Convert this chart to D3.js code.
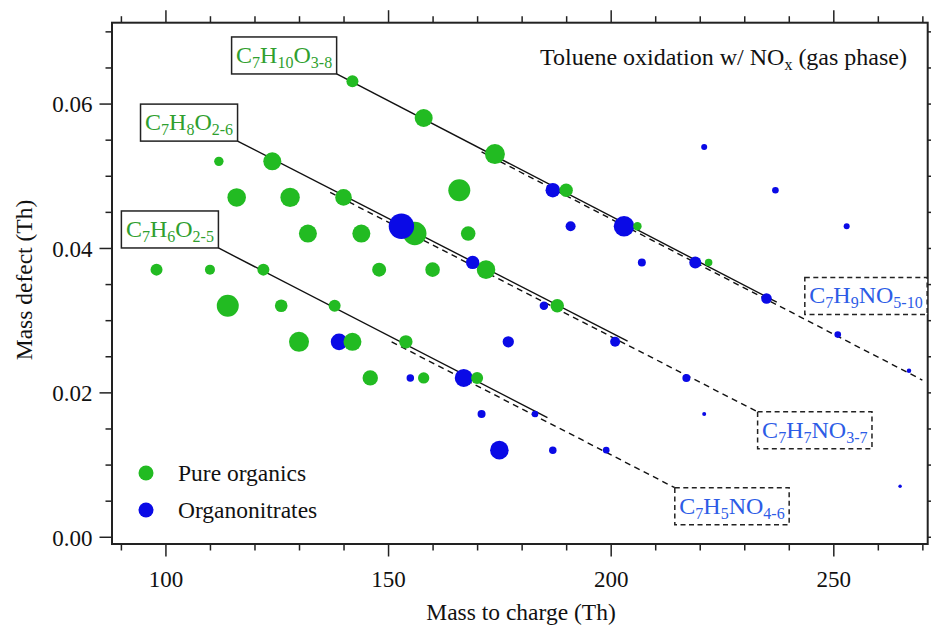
<!DOCTYPE html>
<html>
<head>
<meta charset="utf-8">
<script src="https://cdn.jsdelivr.net/npm/d3@7/dist/d3.min.js"></script>
<style>
body { margin: 0; background: #fff; }
text { font-family: "Liberation Serif", "Times New Roman", serif; }
</style>
</head>
<body>
<div id="chart"></div>
<script>
// pure organics (green)
const organicsMz = [142, 158, 174, 190, 206, 222, 112, 124, 116, 128, 140, 166, 132, 144, 156, 168,
	98, 110, 122, 148, 160, 172, 114, 126, 138, 188, 130, 142, 154, 146, 158, 170];
const organicsDefect = [0.0631, 0.058, 0.053, 0.048, 0.043, 0.038, 0.052, 0.052, 0.047, 0.047, 0.047, 0.048,
	0.042, 0.042, 0.042, 0.042, 0.037, 0.037, 0.037, 0.037, 0.037, 0.037, 0.032, 0.032, 0.032, 0.032,
	0.027, 0.027, 0.027, 0.022, 0.022, 0.022];
const organicsSignal = [36, 81, 100, 45, 18, 14, 22, 81, 86, 94, 69, 121, 81, 81, 137, 53,
	36, 25, 36, 49, 53, 86, 121, 40, 36, 45, 100, 81, 45, 59, 32, 36];

// organonitrates (blue)
const nitratesMz = [153, 139, 155, 167, 169, 177, 171, 183, 175, 187, 199, 185, 187, 191, 203, 207,
	219, 235, 221, 237, 253, 201, 217, 221, 251, 267, 265];
const nitratesDefect = [0.043, 0.027, 0.022, 0.022, 0.038, 0.027, 0.017, 0.017, 0.012, 0.012, 0.012, 0.032,
	0.048, 0.043, 0.043, 0.038, 0.038, 0.033, 0.054, 0.048, 0.043, 0.027, 0.022, 0.017, 0.028, 0.023, 0.007];
const nitratesSignal = [161, 69, 14, 81, 45, 32, 16, 11, 86, 14, 11, 18, 53, 25, 106, 16,
	36, 28, 9, 11, 9, 25, 16, 4, 11, 5, 3];

const seriesNames = ["Pure organics", "Organonitrates"];

const xMajor = [100, 150, 200, 250];
const xMinor = [90, 110, 120, 130, 140, 160, 170, 180, 190, 210, 220, 230, 240, 260, 270];
const yMajor = [0, 0.02, 0.04, 0.06];
const yMinor = [0.005, 0.01, 0.015, 0.025, 0.03, 0.035, 0.045, 0.05, 0.055, 0.065, 0.07];

// homologous series guide lines: [m/z start, defect start, m/z end, defect end]
const lineNames = ["C7H10O3-8", "C7H9NO5-10", "C7H8O2-6", "C7H7NO3-7", "C7H6O2-5", "C7H5NO4-6"];
const lineEnds = [
	[138.45, 0.0641, 237.3, 0.0325],
	[171, 0.0533, 270, 0.0217],
	[116.2, 0.0548, 203.8, 0.0271],
	[137, 0.0477, 233, 0.0173],
	[111.9, 0.0400, 185.8, 0.0165],
	[150.8, 0.0270, 214.4, 0.0068]
];
const lineIsNitrate = [false, true, false, true, false, true];

// formula labels, {} = subscript; anchor in data units + box corner at anchor
const labelText = ["C{7}H{10}O{3-8}", "C{7}H{8}O{2-6}", "C{7}H{6}O{2-5}",
	"C{7}H{9}NO{5-10}", "C{7}H{7}NO{3-7}", "C{7}H{5}NO{4-6}"];
const labelAnchor = [[138.45, 0.0641], [116.2, 0.0548], [111.9, 0.0400],
	[243.6, 0.0308], [233, 0.0173], [214.4, 0.0068]];
const labelCorner = ["br", "br", "br", "bl", "tl", "tl"];
const labelIsNitrate = [false, false, false, true, true, true];

const W = 931, H = 630;
const green = "#22bb22", blue = "#0a0ae6";
const greenText = "#2f9f2f", blueText = "#2d5ce6";

const svg = d3.select("#chart").append("svg")
	.attr("width", W)
	.attr("height", H);

const x = d3.scaleLinear().domain([88, 271.2]).range([112, 927.7]);
const y = d3.scaleLinear().domain([-0.001, 0.0712]).range([544, 22.7]);
const r = d3.scaleSqrt().domain([0, 100]).range([0, 10]);

// axes, outward ticks on all four sides
const axes = [
	[d3.axisBottom, `translate(0,${y.range()[0]})`, x],
	[d3.axisTop, `translate(0,${y.range()[1]})`, x],
	[d3.axisLeft, `translate(${x.range()[0]},0)`, y],
	[d3.axisRight, `translate(${x.range()[1]},0)`, y]
];
axes.forEach(([fn, tr, sc], i) => {
	const major = sc === x ? xMajor : yMajor;
	const minor = sc === x ? xMinor : yMinor;
	const labelled = i === 0 || i === 2;
	const gMin = svg.append("g").attr("transform", tr)
		.call(fn(sc).tickValues(minor).tickSize(6.5).tickFormat(""));
	const gMaj = svg.append("g").attr("transform", tr)
		.call(fn(sc).tickValues(major).tickSize(12.5).tickPadding(6)
			.tickFormat(labelled ? (sc === x ? d3.format("d") : d3.format(".2f")) : ""));
	[gMin, gMaj].forEach(g => {
		g.select(".domain").remove();
		g.selectAll(".tick line").attr("stroke", "#222").attr("stroke-width", 1.5);
		g.selectAll(".tick text")
			.attr("font-family", "Liberation Serif")
			.attr("font-size", 23)
			.attr("fill", "#111");
	});
	if (i === 0) gMaj.selectAll(".tick text").attr("dy", "1.08em");
	if (i === 2) gMaj.selectAll(".tick text").attr("dx", "-1").attr("dy", "0.36em");
});

svg.append("rect")
	.attr("x", x.range()[0])
	.attr("y", y.range()[1])
	.attr("width", x.range()[1] - x.range()[0])
	.attr("height", y.range()[0] - y.range()[1])
	.attr("fill", "none")
	.attr("stroke", "#222")
	.attr("stroke-width", 2);

// guide lines
svg.append("g")
	.selectAll("line")
	.data(lineEnds)
	.enter()
	.append("line")
	.attr("x1", d => x(d[0]))
	.attr("y1", d => y(d[1]))
	.attr("x2", d => x(d[2]))
	.attr("y2", d => y(d[3]))
	.attr("stroke", "#111")
	.attr("stroke-width", 1.4)
	.attr("stroke-dasharray", (d, i) => lineIsNitrate[i] ? "6,4.5" : null);

// points: nitrates then organics, drawn by increasing mass defect
const points = nitratesMz.map((m, i) => ({ mz: m, md: nitratesDefect[i], s: nitratesSignal[i], kind: 1 }))
	.concat(organicsMz.map((m, i) => ({ mz: m, md: organicsDefect[i], s: organicsSignal[i], kind: 0 })));
const ordered = d3.sort(points, (a, b) => a.md - b.md);

svg.append("g")
	.selectAll("circle")
	.data(ordered)
	.enter()
	.append("circle")
	.attr("cx", d => x(d.mz))
	.attr("cy", d => y(d.md))
	.attr("r", d => r(d.s))
	.attr("fill", d => d.kind ? blue : green);

// formula labels in boxes
const addFormula = (g, str, size, subSize, color) => {
	const t = g.append("text").attr("font-size", size).attr("fill", color);
	let down = false;
	str.split(/(\{[^}]*\})/).filter(s => s).forEach(p => {
		if (p[0] === "{") {
			t.append("tspan").attr("font-size", subSize).attr("dy", down ? 0 : 5).text(p.slice(1, -1));
			down = true;
		} else {
			t.append("tspan").attr("dy", down ? -5 : 0).text(p);
			down = false;
		}
	});
	return t;
};

const labelGroups = labelText.map((str, i) => {
	const g = svg.append("g");
	const box = g.append("rect")
		.attr("fill", "#fff")
		.attr("stroke", "#222")
		.attr("stroke-width", 1.5)
		.attr("stroke-dasharray", labelIsNitrate[i] ? "5,3.5" : null);
	const t = addFormula(g, str, 24, 16, labelIsNitrate[i] ? blueText : greenText);
	return { box, t, i };
});

const placeLabels = () => {
	labelGroups.forEach(({ box, t, i }) => {
		t.attr("x", 0).attr("y", 0);
		const bw = t.node().getBBox().width + 9;
		const bh = 37;
		const ax = x(labelAnchor[i][0]), ay = y(labelAnchor[i][1]);
		const c = labelCorner[i];
		const bx = c[1] === "r" ? ax - bw : ax;
		const by = c[0] === "b" ? ay - bh : ay;
		box.attr("x", bx).attr("y", by).attr("width", bw).attr("height", bh);
		t.attr("x", bx + 4.5).attr("y", by + 26);
	});
};
placeLabels();
if (document.fonts) document.fonts.ready.then(placeLabels);

// title
const title = svg.append("text")
	.attr("x", 907)
	.attr("y", 65)
	.attr("text-anchor", "end")
	.attr("font-size", 24)
	.attr("fill", "#111");
title.append("tspan").text("Toluene oxidation w/ NO");
title.append("tspan").attr("font-size", 16).attr("dy", 5).text("x");
title.append("tspan").attr("dy", -5).text(" (gas phase)");

// legend
const legend = svg.append("g");
seriesNames.forEach((name, i) => {
	legend.append("circle")
		.attr("cx", 146)
		.attr("cy", 473 + i * 37)
		.attr("r", 7.5)
		.attr("fill", i ? blue : green);
	legend.append("text")
		.attr("x", 178)
		.attr("y", 481 + i * 37)
		.attr("font-size", 23.5)
		.attr("fill", "#111")
		.text(name);
});

// axis titles
svg.append("text")
	.attr("x", 521)
	.attr("y", 620)
	.attr("text-anchor", "middle")
	.attr("font-size", 23.5)
	.attr("fill", "#111")
	.text("Mass to charge (Th)");

svg.append("text")
	.attr("transform", "translate(32,280) rotate(-90)")
	.attr("text-anchor", "middle")
	.attr("font-size", 23.5)
	.attr("fill", "#111")
	.text("Mass defect (Th)");
</script>
</body>
</html>
